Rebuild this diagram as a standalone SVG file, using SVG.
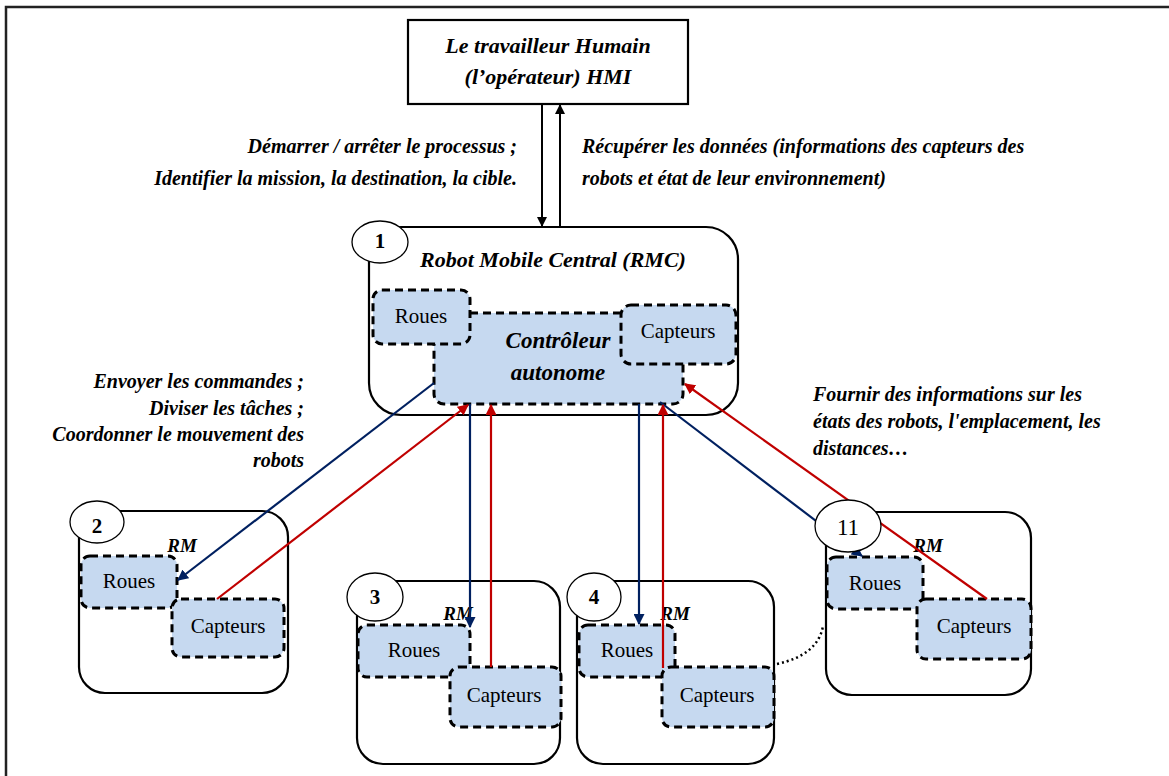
<svg xmlns="http://www.w3.org/2000/svg" width="1169" height="776" viewBox="0 0 1169 776">
  <defs>
    <marker id="ah-black" viewBox="0 0 10 10" refX="9" refY="5" markerWidth="5" markerHeight="5" orient="auto" markerUnits="strokeWidth">
      <path d="M0,0 L10,5 L0,10 z" fill="#000"/>
    </marker>
    <marker id="ah-blue" viewBox="0 0 10 10" refX="9" refY="5" markerWidth="5" markerHeight="5" orient="auto" markerUnits="strokeWidth">
      <path d="M0,0 L10,5 L0,10 z" fill="#002060"/>
    </marker>
    <marker id="ah-red" viewBox="0 0 10 10" refX="9" refY="5" markerWidth="5" markerHeight="5" orient="auto" markerUnits="strokeWidth">
      <path d="M0,0 L10,5 L0,10 z" fill="#c00000"/>
    </marker>
  </defs>
  <style>
    .frame { fill: none; stroke: #222; stroke-width: 2.5; }
    .box { fill: #fff; stroke: #000; stroke-width: 2.2; }
    .part { fill: #c6d9f0; stroke: #000; stroke-width: 3; stroke-dasharray: 8 5; }
    .badge { fill: #fff; stroke: #000; stroke-width: 1.3; }
    .t { font-family: "Liberation Serif", "Times New Roman", serif; fill: #000; }
    .lbl { font-size: 20px; font-weight: bold; font-style: italic; }
    .big { font-size: 22px; font-weight: bold; font-style: italic; }
    .ctl { font-size: 23px; font-weight: bold; font-style: italic; }
    .plain { font-size: 21px; }
    .num { font-size: 21px; font-weight: bold; }
    .rm { font-size: 19px; font-weight: bold; font-style: italic; }
    .blk { stroke: #000; stroke-width: 2; fill: none; }
    .blue { stroke: #002060; stroke-width: 2.2; fill: none; }
    .red { stroke: #c00000; stroke-width: 2.2; fill: none; }
  </style>

  <rect x="0" y="0" width="1169" height="776" fill="#fff"/>
  <!-- page frame, running off the right and bottom edges -->
  <rect class="frame" x="6" y="7" width="1190" height="800"/>

  <!-- operator -->
  <g id="operator">
    <rect class="box" x="408" y="20" width="280" height="84"/>
    <text class="t big" x="548" y="53" text-anchor="middle">Le travailleur Humain</text>
    <text class="t big" x="548" y="84" text-anchor="middle">(l’opérateur) HMI</text>
  </g>

  <!-- link labels -->
  <g id="labels">
    <text class="t lbl" x="517" y="153" text-anchor="end">Démarrer / arrêter le processus ;</text>
    <text class="t lbl" x="517" y="185" text-anchor="end">Identifier la mission, la destination, la cible.</text>
    <text class="t lbl" x="582" y="153">Récupérer les données (informations des capteurs des</text>
    <text class="t lbl" x="582" y="185">robots et état de leur environnement)</text>
    <text class="t lbl" x="304" y="388" text-anchor="end">Envoyer les commandes ;</text>
    <text class="t lbl" x="304" y="415" text-anchor="end">Diviser les tâches ;</text>
    <text class="t lbl" x="304" y="441" text-anchor="end">Coordonner le mouvement des</text>
    <text class="t lbl" x="304" y="467" text-anchor="end">robots</text>
    <text class="t lbl" x="813" y="401">Fournir des informations sur les</text>
    <text class="t lbl" x="813" y="428">états des robots, l'emplacement, les</text>
    <text class="t lbl" x="813" y="455">distances…</text>
  </g>

  <!-- central mobile robot -->
  <g id="rmc">
    <rect class="box" x="369" y="227" width="369" height="188" rx="32"/>
    <text class="t big" x="553" y="267" text-anchor="middle">Robot Mobile Central (RMC)</text>
    <rect class="part" x="434" y="313" width="249" height="91" rx="10"/>
    <text class="t ctl" x="558" y="348" text-anchor="middle">Contrôleur</text>
    <text class="t ctl" x="558" y="380" text-anchor="middle">autonome</text>
    <rect class="part" x="373" y="290" width="97" height="54" rx="9"/>
    <text class="t plain" x="421" y="323" text-anchor="middle">Roues</text>
    <rect class="part" x="621" y="305" width="115" height="59" rx="10"/>
    <text class="t plain" x="678" y="338" text-anchor="middle">Capteurs</text>
  </g>

  <!-- mobile robots -->
  <g id="rm2">
    <rect class="box" x="79" y="511" width="209" height="182" rx="26"/>
    <text class="t rm" x="182" y="552" text-anchor="middle">RM</text>
    <rect class="part" x="81" y="556" width="96" height="52" rx="9"/>
    <text class="t plain" x="129" y="588" text-anchor="middle">Roues</text>
    <rect class="part" x="172" y="599" width="112" height="58" rx="9"/>
    <text class="t plain" x="228" y="633" text-anchor="middle">Capteurs</text>
  </g>
  <g id="rm3">
    <rect class="box" x="357" y="581" width="203" height="183" rx="26"/>
    <text class="t rm" x="458" y="620" text-anchor="middle">RM</text>
    <rect class="part" x="358" y="625" width="112" height="52" rx="9"/>
    <text class="t plain" x="414" y="657" text-anchor="middle">Roues</text>
    <rect class="part" x="450" y="667" width="111" height="60" rx="9"/>
    <text class="t plain" x="504" y="702" text-anchor="middle">Capteurs</text>
  </g>
  <g id="rm4">
    <rect class="box" x="577" y="581" width="197" height="183" rx="26"/>
    <text class="t rm" x="675" y="620" text-anchor="middle">RM</text>
    <rect class="part" x="579" y="625" width="96" height="52" rx="9"/>
    <text class="t plain" x="627" y="657" text-anchor="middle">Roues</text>
    <rect class="part" x="662" y="667" width="112" height="60" rx="9"/>
    <text class="t plain" x="717" y="702" text-anchor="middle">Capteurs</text>
  </g>
  <g id="rm11">
    <rect class="box" x="826" y="512" width="205" height="183" rx="26"/>
    <text class="t rm" x="928" y="552" text-anchor="middle">RM</text>
    <rect class="part" x="827" y="557" width="96" height="52" rx="9"/>
    <text class="t plain" x="875" y="590" text-anchor="middle">Roues</text>
    <rect class="part" x="917" y="599" width="114" height="60" rx="9"/>
    <text class="t plain" x="974" y="633" text-anchor="middle">Capteurs</text>
  </g>

  <!-- connectors -->
  <g id="connectors">
    <line class="blk" x1="542" y1="104" x2="542" y2="226" marker-end="url(#ah-black)"/>
    <line class="blk" x1="560" y1="227" x2="560" y2="105" marker-end="url(#ah-black)"/>

    <line class="blue" x1="434" y1="383" x2="178" y2="580" marker-end="url(#ah-blue)"/>
    <line class="blue" x1="470" y1="404" x2="470" y2="627" marker-end="url(#ah-blue)"/>
    <line class="blue" x1="639" y1="404" x2="639" y2="624" marker-end="url(#ah-blue)"/>
    <line class="blue" x1="660" y1="402" x2="862" y2="556" marker-end="url(#ah-blue)"/>

    <line class="red" x1="217" y1="599" x2="468" y2="405" marker-end="url(#ah-red)"/>
    <line class="red" x1="491" y1="667" x2="491" y2="405" marker-end="url(#ah-red)"/>
    <line class="red" x1="663" y1="668" x2="663" y2="405" marker-end="url(#ah-red)"/>
    <line class="red" x1="987" y1="599" x2="685" y2="384" marker-end="url(#ah-red)"/>

    <path d="M777 664 Q818 655 823 626" fill="none" stroke="#000" stroke-width="2.5" stroke-dasharray="2 3"/>
  </g>

  <!-- robot index badges -->
  <g id="badge1"><ellipse class="badge" cx="380" cy="242" rx="28" ry="21"/><text class="t num" x="380" y="248" text-anchor="middle">1</text></g>
  <g id="badge2"><ellipse class="badge" cx="97" cy="522" rx="27" ry="21"/><text class="t num" x="97" y="533" text-anchor="middle">2</text></g>
  <g id="badge3"><ellipse class="badge" cx="375" cy="597" rx="28" ry="24"/><text class="t num" x="375" y="604" text-anchor="middle">3</text></g>
  <g id="badge4"><ellipse class="badge" cx="594" cy="597" rx="27" ry="24"/><text class="t num" x="594" y="604" text-anchor="middle">4</text></g>
  <g id="badge11"><ellipse class="badge" cx="848" cy="526" rx="33" ry="26"/><text class="t" font-size="23" x="848" y="535" text-anchor="middle">11</text></g>
</svg>
